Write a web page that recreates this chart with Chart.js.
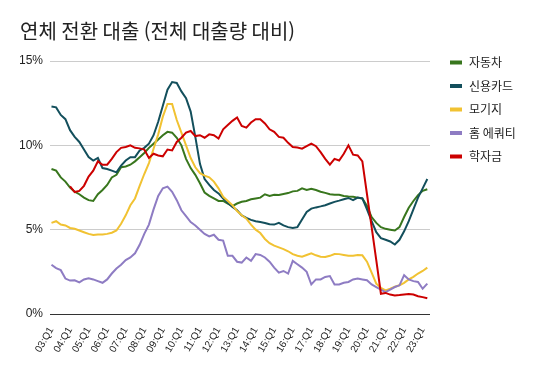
<!DOCTYPE html>
<html lang="ko">
<head>
  <meta charset="UTF-8" />
  <title>연체 전환 대출</title>
  <script src="https://cdn.jsdelivr.net/npm/chart.js"></script>
  <style>
    body { margin: 0; background: #fff; }
    #wrap { width: 539px; height: 371px; }
  </style>
</head>
<body>
  <div id="wrap"><canvas id="chart" width="539" height="371"></canvas></div>

  <script>
    const quarters = [
      '03:Q1','03:Q2','03:Q3','03:Q4', '04:Q1','04:Q2','04:Q3','04:Q4',
      '05:Q1','05:Q2','05:Q3','05:Q4', '06:Q1','06:Q2','06:Q3','06:Q4',
      '07:Q1','07:Q2','07:Q3','07:Q4', '08:Q1','08:Q2','08:Q3','08:Q4',
      '09:Q1','09:Q2','09:Q3','09:Q4', '10:Q1','10:Q2','10:Q3','10:Q4',
      '11:Q1','11:Q2','11:Q3','11:Q4', '12:Q1','12:Q2','12:Q3','12:Q4',
      '13:Q1','13:Q2','13:Q3','13:Q4', '14:Q1','14:Q2','14:Q3','14:Q4',
      '15:Q1','15:Q2','15:Q3','15:Q4', '16:Q1','16:Q2','16:Q3','16:Q4',
      '17:Q1','17:Q2','17:Q3','17:Q4', '18:Q1','18:Q2','18:Q3','18:Q4',
      '19:Q1','19:Q2','19:Q3','19:Q4', '20:Q1','20:Q2','20:Q3','20:Q4',
      '21:Q1','21:Q2','21:Q3','21:Q4', '22:Q1','22:Q2','22:Q3','22:Q4',
      '23:Q1','23:Q2'
    ];
    // only the Q1 of every year gets a label
    const labelIdx = [0, 4, 8, 12, 16, 20, 24, 28, 32, 36, 40, 44, 48, 52, 56, 60, 64, 68, 72, 76, 80];
    const yTicks = [0, 5, 10, 15];

    const seriesNames = ['자동차', '신용카드', '모기지', '홈 에쿼티', '학자금'];
    const seriesColors = ['#38761d', '#134f5c', '#f1c232', '#8e7cc3', '#cc0000'];

    // % of balance, 03:Q1 .. 23:Q2
    const autoLoan = [
      8.6, 8.5, 8.1, 7.85, 7.5, 7.25, 7.1, 6.9, 6.75, 6.7,
      7.1, 7.35, 7.65, 8.1, 8.25, 8.7, 8.75, 8.85, 9.05, 9.3,
      9.55, 9.85, 10.1, 10.35, 10.6, 10.8, 10.75, 10.45, 10.0, 9.2,
      8.65, 8.25, 7.75, 7.2, 7.0, 6.85, 6.7, 6.7, 6.55, 6.4,
      6.55, 6.65, 6.7, 6.8, 6.85, 6.9, 7.1, 7.0, 7.07, 7.05,
      7.12, 7.17, 7.27, 7.3, 7.45, 7.35, 7.42, 7.35, 7.25, 7.18,
      7.1, 7.07, 7.07, 7.0, 6.97, 6.95, 6.9, 6.85, 6.4, 5.75,
      5.4, 5.15, 5.05, 5.0, 4.95, 5.15, 5.75, 6.3, 6.7, 7.05,
      7.3, 7.4
    ];
    const creditCard = [
      12.3, 12.25, 11.8, 11.55, 10.9, 10.5, 10.2, 9.75, 9.3, 9.1,
      9.25, 8.65, 8.6, 8.5, 8.4, 8.8, 9.1, 9.3, 9.3, 9.7,
      9.85, 10.1, 10.6, 11.4, 12.35, 13.3, 13.75, 13.7, 13.2, 12.8,
      12.0, 10.5, 8.9, 8.0, 7.65, 7.35, 7.15, 6.85, 6.6, 6.35,
      6.15, 5.85, 5.7, 5.58, 5.5, 5.45, 5.4, 5.32, 5.3, 5.4,
      5.25, 5.15, 5.1, 5.15, 5.6, 6.05, 6.25, 6.32, 6.38, 6.45,
      6.55, 6.65, 6.72, 6.8, 6.88, 6.75, 6.9, 6.85, 6.2, 5.5,
      4.85, 4.5, 4.4, 4.3, 4.12, 4.4, 4.9, 5.5, 6.2, 6.9,
      7.45, 8.0
    ];
    const mortgage = [
      5.4, 5.5, 5.3, 5.25, 5.1, 5.05, 4.95, 4.85, 4.75, 4.68,
      4.72, 4.72, 4.75, 4.82, 4.95, 5.35, 5.85, 6.45, 6.85, 7.6,
      8.3, 8.95, 9.8, 10.65, 11.7, 12.45, 12.45, 11.5, 10.75, 10.0,
      9.25, 8.7, 8.35, 8.2, 8.1, 7.85, 7.45, 6.95, 6.7, 6.45,
      6.1, 5.85, 5.65, 5.3, 5.0, 4.8, 4.45, 4.2, 4.05, 3.95,
      3.85, 3.72, 3.55, 3.45, 3.4, 3.5, 3.6, 3.48, 3.4, 3.38,
      3.45, 3.56, 3.55, 3.5, 3.45, 3.45, 3.5, 3.48, 3.1, 2.45,
      1.8, 1.55, 1.4, 1.5, 1.62, 1.7, 1.85, 2.05, 2.2, 2.4,
      2.55, 2.75
    ];
    const homeEquity = [
      2.92, 2.72, 2.6, 2.1, 1.98, 2.0, 1.87, 2.05, 2.12, 2.05,
      1.95, 1.85, 2.05, 2.4, 2.7, 2.92, 3.2, 3.35, 3.6, 4.1,
      4.75, 5.3, 6.2, 7.0, 7.45, 7.55, 7.25, 6.75, 6.15, 5.8,
      5.45, 5.25, 5.0, 4.75, 4.6, 4.7, 4.4, 4.35, 3.45, 3.45,
      3.1, 3.05, 3.35, 3.15, 3.55, 3.5, 3.35, 3.1, 2.75, 2.45,
      2.55, 2.4, 3.15, 2.95, 2.75, 2.5, 1.75, 2.05, 2.05, 2.2,
      2.25, 1.75, 1.75, 1.85, 1.9, 2.05, 2.1, 2.05, 2.0, 1.75,
      1.6, 1.45, 1.3, 1.45, 1.6, 1.7, 2.3, 2.05, 1.95, 1.9,
      1.5, 1.8
    ];
    const studentLoan = [
      null, null, null, null, 7.57, 7.23, 7.3, 7.6, 8.15, 8.5,
      9.05, 8.85, 8.85, 9.2, 9.6, 9.85, 9.9, 10.0, 9.85, 9.82,
      9.75, 9.25, 9.5, 9.4, 9.35, 9.75, 9.7, 10.2, 10.45, 10.75,
      10.85, 10.55, 10.6, 10.45, 10.65, 10.6, 10.4, 10.95, 11.2, 11.45,
      11.65, 11.15, 11.05, 11.35, 11.55, 11.55, 11.3, 10.95, 10.8, 10.5,
      10.45, 10.15, 9.9, 9.87, 9.8, 9.95, 10.1, 9.95, 9.6, 9.2,
      8.85, 9.2, 9.1, 9.5, 10.0, 9.45, 9.4, 9.05, 7.1, 5.15,
      3.2, 1.2, 1.25, 1.15, 1.1, 1.12, 1.15, 1.18, 1.15, 1.05,
      1.0, 0.93
    ];

    const seriesData = [autoLoan, creditCard, mortgage, homeEquity, studentLoan];

    const sideLegend = {
      id: 'sideLegend',
      afterDraw(chart) {
        const ctx = chart.ctx;
        ctx.save();
        ctx.font = '12px "Noto Sans CJK KR"';
        ctx.textBaseline = 'middle';
        seriesNames.forEach((name, k) => {
          const y = 62.5 + k * 23.5;
          ctx.fillStyle = seriesColors[k];
          ctx.fillRect(450, y - 2, 12, 4);
          ctx.fillStyle = '#222';
          ctx.fillText(name, 469, y);
        });
        ctx.restore();
      }
    };

    new Chart(document.getElementById('chart'), {
      type: 'line',
      data: {
        datasets: seriesData.map((vals, k) => ({
          label: seriesNames[k],
          data: vals.map((v, i) => ({ x: i, y: v })),
          borderColor: seriesColors[k],
          backgroundColor: seriesColors[k],
          borderWidth: 2,
          pointRadius: 0,
          tension: 0,
          order: seriesNames.length - k
        }))
      },
      options: {
        responsive: false,
        animation: false,
        layout: { padding: { left: 20, right: 109, top: 0, bottom: 0 } },
        plugins: {
          legend: { display: false },
          tooltip: { enabled: false },
          title: {
            display: true,
            text: '연체 전환 대출 (전체 대출량 대비)',
            align: 'start',
            color: '#222',
            font: { family: '"Noto Sans CJK KR"', size: 20, weight: 'normal' },
            padding: { top: 19, bottom: 18 }
          }
        },
        scales: {
          x: {
            type: 'linear',
            min: -0.32,
            max: 81.58,
            grid: { display: false },
            border: { display: false },
            afterBuildTicks: s => { s.ticks = labelIdx.map(v => ({ value: v })); },
            afterFit: s => { s.height = 57; },
            ticks: {
              autoSkip: false,
              minRotation: 60,
              maxRotation: 60,
              padding: 3,
              color: '#222',
              font: { family: '"Liberation Sans", Arial', size: 10 },
              callback: v => quarters[v]
            }
          },
          y: {
            min: 0,
            max: 15,
            afterBuildTicks: s => { s.ticks = yTicks.map(v => ({ value: v })); },
            afterFit: s => { s.width = 30; },
            border: { display: false },
            grid: {
              drawTicks: false,
              color: c => c.tick && c.tick.value === 0 ? '#333' : '#ccc'
            },
            ticks: {
              padding: 7,
              color: '#222',
              font: { family: '"Liberation Sans", Arial', size: 12 },
              callback: v => v + '%'
            }
          }
        }
      },
      plugins: [sideLegend]
    });
  </script>
</body>
</html>
